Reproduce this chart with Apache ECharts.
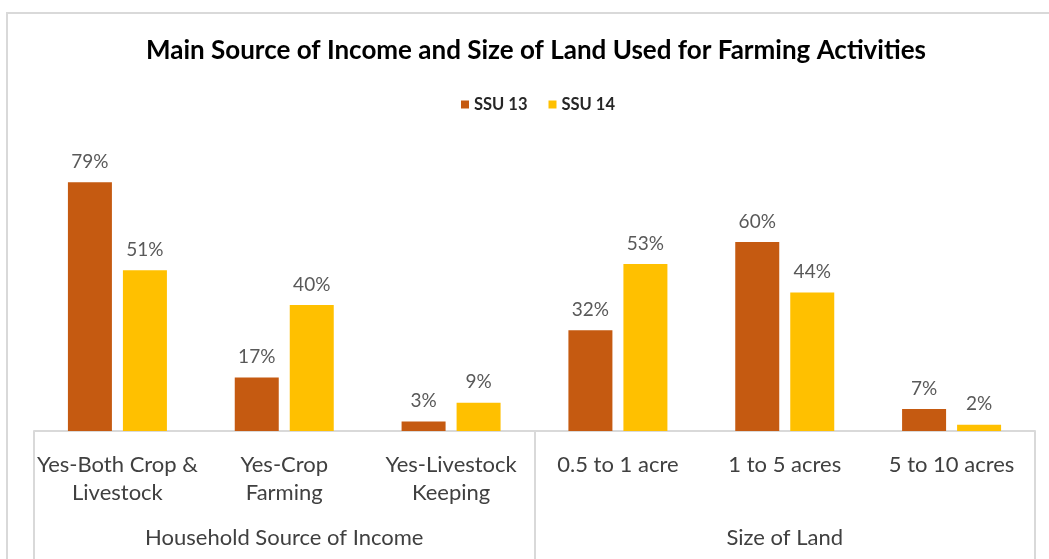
<!DOCTYPE html>
<html>
<head>
<meta charset="utf-8">
<script src="https://cdn.jsdelivr.net/npm/echarts@6/dist/echarts.min.js"></script>
<style>
  html, body { margin: 0; padding: 0; background: #ffffff; }
  #chart { width: 1049px; height: 559px; }
</style>
</head>
<body>
<div id="chart"></div>
<script>
// Categories (inner level) and the groups they belong to (outer level)
const categories = [
  'Yes-Both Crop &\nLivestock',
  'Yes-Crop\nFarming',
  'Yes-Livestock\nKeeping',
  '0.5 to 1 acre',
  '1 to 5 acres',
  '5 to 10 acres'
];
const groups = ['Household Source of Income', 'Size of Land'];

// Percent of respondents
const ssu13 = [79, 17, 3, 32, 60, 7];
const ssu14 = [51, 40, 9, 53, 44, 2];

const FONT = 'Lato, "Noto Sans", sans-serif';
const GRID_LINE = '#d9d9d9';

const chart = echarts.init(document.getElementById('chart'), null, { renderer: 'canvas' });

const barLabel = {
  show: true,
  position: 'top',
  distance: 11,
  formatter: p => p.value + '%',
  fontFamily: FONT,
  fontSize: 19,
  color: '#595959'
};

chart.setOption({
  backgroundColor: '#ffffff',
  animation: false,
  title: {
    text: 'Main Source of Income and Size of Land Used for Farming Activities',
    left: 531,
    textAlign: 'center',
    top: 33,
    textStyle: { fontFamily: FONT, fontSize: 26, fontWeight: 'bold', color: '#000000' }
  },
  legend: {
    data: ['SSU 13', 'SSU 14'],
    top: 91,
    left: 456,
    itemWidth: 8,
    itemHeight: 8,
    itemGap: 21,
    icon: 'rect',
    textStyle: { fontFamily: FONT, fontSize: 16.5, fontWeight: 'bold', color: '#262626' }
  },
  grid: { left: 34, right: 14, top: 147.5, bottom: 128, containLabel: false },
  xAxis: [
    {
      type: 'category',
      data: categories,
      position: 'bottom',
      axisLine: { show: true, lineStyle: { color: GRID_LINE, width: 2 } },
      axisTick: { show: false },
      axisLabel: {
        interval: 0,
        margin: 20,
        fontFamily: FONT,
        fontSize: 22,
        lineHeight: 28,
        color: '#404040'
      }
    },
    {
      type: 'category',
      data: groups,
      position: 'bottom',
      axisLine: { show: false },
      axisTick: { show: true, length: 140, lineStyle: { color: GRID_LINE, width: 2 } },
      axisLabel: {
        interval: 0,
        margin: 96,
        fontFamily: FONT,
        fontSize: 22,
        color: '#404040'
      }
    }
  ],
  yAxis: {
    type: 'value',
    min: 0,
    max: 90,
    show: false,
    splitLine: { show: false }
  },
  series: [
    {
      name: 'SSU 13',
      type: 'bar',
      xAxisIndex: 0,
      data: ssu13,
      barWidth: 44,
      barGap: '25%',
      itemStyle: { color: '#C55A11' },
      label: barLabel
    },
    {
      name: 'SSU 14',
      type: 'bar',
      xAxisIndex: 0,
      data: ssu14,
      barWidth: 44,
      barGap: '25%',
      itemStyle: { color: '#FFC000' },
      label: barLabel
    }
  ],
  graphic: [
    {
      type: 'rect',
      silent: true,
      shape: { x: 7, y: 13, width: 1100, height: 600 },
      style: { fill: null, stroke: GRID_LINE, lineWidth: 2 }
    }
  ]
});
</script>
</body>
</html>
